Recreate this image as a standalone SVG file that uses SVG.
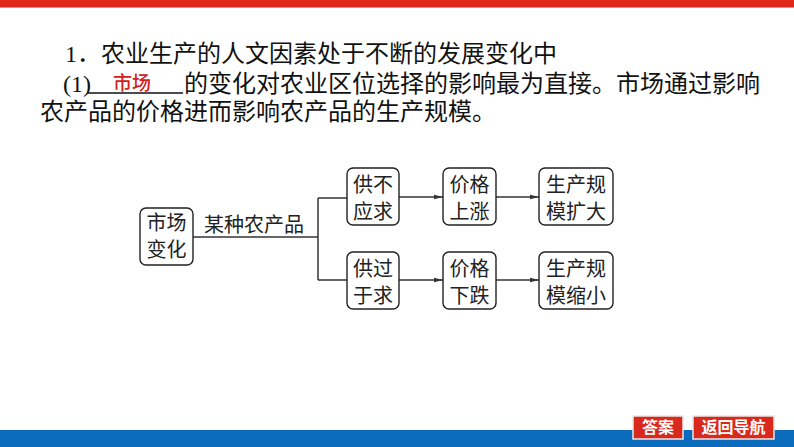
<svg xmlns="http://www.w3.org/2000/svg" width="794" height="447" viewBox="0 0 794 447">
<style>
.t{font-family:"Liberation Serif","Noto Sans CJK SC",serif;font-size:24px;fill:#111}
.b{font-family:"Noto Sans CJK SC",sans-serif;font-size:20px;fill:#222;text-anchor:middle}
.box{fill:#fff;stroke:#222;stroke-width:1.4}
.ln{fill:none;stroke:#333;stroke-width:1.5}
.btn{fill:#d9281c;stroke:#e8e8e8;stroke-width:1.5}
.bt{font-family:"Noto Sans CJK SC",sans-serif;font-size:16px;font-weight:bold;fill:#fff;text-anchor:middle}
</style>
<defs>
<marker id="ah" markerWidth="10" markerHeight="6" refX="9" refY="3" orient="auto" markerUnits="userSpaceOnUse">
<path d="M0,0.8 L9,3 L0,5.2 Z" fill="#333"/>
</marker>
</defs>
<rect x="0" y="0" width="794" height="7.5" fill="#e1261c"/>
<rect x="0" y="430" width="794" height="17" fill="#0b6bbd"/>

<text class="t" x="65" y="62">1．农业生产的人文因素处于不断的发展变化中</text>
<text class="t" x="63" y="92">(1)</text>
<line x1="88" y1="93" x2="183" y2="93" stroke="#111" stroke-width="1.3"/>
<text x="132" y="90" font-family="Noto Sans CJK SC,sans-serif" font-size="19" font-weight="500" fill="#d42020" text-anchor="middle">市场</text>
<text class="t" x="184" y="92">的变化对农业区位选择的影响最为直接。市场通过影响</text>
<text class="t" x="40" y="120">农产品的价格进而影响农产品的生产规模。</text>

<g id="connectors">
<polyline class="ln" points="193,237 318,237"/>
<polyline class="ln" points="318,198 318,280"/>
<line class="ln" x1="318" y1="198" x2="347" y2="198"/>
<line class="ln" x1="318" y1="280" x2="347" y2="280"/>
<line class="ln" x1="399" y1="197" x2="443" y2="197" marker-end="url(#ah)"/>
<line class="ln" x1="496" y1="197" x2="539" y2="197" marker-end="url(#ah)"/>
<line class="ln" x1="399" y1="280" x2="443" y2="280" marker-end="url(#ah)"/>
<line class="ln" x1="496" y1="280" x2="539" y2="280" marker-end="url(#ah)"/>
<text class="b" x="254" y="232">某种农产品</text>
</g>

<g id="n-market">
<rect class="box" x="140" y="208" width="53" height="57" rx="6"/>
<text class="b" x="166.5" y="230">市场</text>
<text class="b" x="166.5" y="257">变化</text>
</g>
<g id="n-short">
<rect class="box" x="347" y="168" width="52" height="57" rx="6"/>
<text class="b" x="373" y="192">供不</text>
<text class="b" x="373" y="219">应求</text>
</g>
<g id="n-up">
<rect class="box" x="443" y="168" width="53" height="57" rx="6"/>
<text class="b" x="469.5" y="192">价格</text>
<text class="b" x="469.5" y="219">上涨</text>
</g>
<g id="n-expand">
<rect class="box" x="539" y="168" width="74" height="57" rx="6"/>
<text class="b" x="576" y="192">生产规</text>
<text class="b" x="576" y="219">模扩大</text>
</g>
<g id="n-surplus">
<rect class="box" x="347" y="252" width="52" height="57" rx="6"/>
<text class="b" x="373" y="276">供过</text>
<text class="b" x="373" y="303">于求</text>
</g>
<g id="n-down">
<rect class="box" x="443" y="252" width="53" height="57" rx="6"/>
<text class="b" x="469.5" y="276">价格</text>
<text class="b" x="469.5" y="303">下跌</text>
</g>
<g id="n-shrink">
<rect class="box" x="539" y="252" width="74" height="57" rx="6"/>
<text class="b" x="576" y="276">生产规</text>
<text class="b" x="576" y="303">模缩小</text>
</g>

<g id="btn-answer">
<rect class="btn" x="633" y="416" width="50" height="23"/>
<text class="bt" x="658" y="433">答案</text>
</g>
<g id="btn-nav">
<rect class="btn" x="693" y="416" width="81" height="23"/>
<text class="bt" x="733.5" y="433">返回导航</text>
</g>
</svg>
